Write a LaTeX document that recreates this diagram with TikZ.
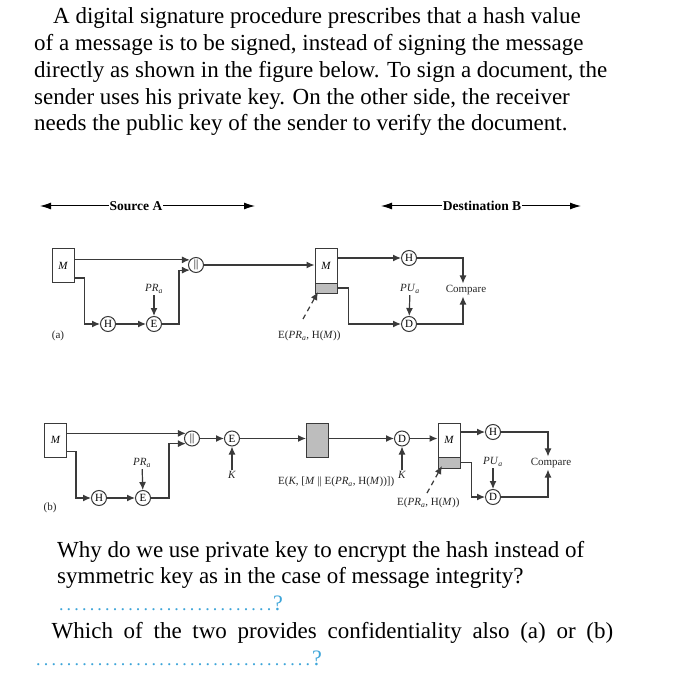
\documentclass[tikz,border=0pt]{standalone}
\usepackage{fontspec}
\setmainfont{Liberation Serif}
\usetikzlibrary{arrows.meta,calc}
\definecolor{wirec}{HTML}{3A3A3A}
\definecolor{gboxc}{HTML}{BDBDBD}
\definecolor{qblue}{HTML}{3DA5D9}
\begin{document}
\begin{tikzpicture}[x=1pt,y=-1pt,
  body/.style={font=\fontsize{23}{26}\selectfont, anchor=base west, inner sep=0pt},
  lbl/.style={font=\fontsize{11}{12}\selectfont, inner sep=1.5pt, text=black!85},
  op/.style={circle, draw=wirec, line width=1pt, fill=white, minimum size=15pt, inner sep=0pt, font=\fontsize{11}{12}\selectfont},
  msgbox/.style={draw=wirec, line width=1pt, fill=white, minimum width=22pt, minimum height=34pt, inner sep=0pt, font=\fontsize{11}{12}\selectfont\itshape},
  graybox/.style={draw=wirec, line width=1pt, fill=gboxc, minimum width=22pt, minimum height=10pt, inner sep=0pt},
  arr/.style={draw=wirec, line width=1.2pt, -{Latex[length=8pt,width=7pt]}},
  hdrarr/.style={draw=black, line width=1pt, {Latex[length=11pt,width=7pt]}-{Latex[length=11pt,width=7pt]}},
  hdr/.style={font=\fontsize{13.5}{15}\selectfont\bfseries, fill=white, inner xsep=1pt, inner ysep=1pt},
  leader/.style={draw=wirec, line width=1.2pt, dash pattern=on 5pt off 4pt, -{Latex[length=8pt,width=7pt]}},
  dotline/.style={anchor=base west, inner sep=0pt, text=qblue}
]
\useasboundingbox[fill=white] (0,0) rectangle (683,700);

% ---------- top text ----------
\node[body] (t1) at (53,24) {A digital signature procedure prescribes that a hash value};
\node[body] (t2) at (34,50.75) {of a message is to be signed, instead of signing the message};
\node[body] (t3) at (34,77.5) {directly as shown in the figure below. To sign a document, the};
\node[body] (t4) at (34,104.25) {sender uses his private key. On the other side, the receiver};
\node[body] (t5) at (34,131) {needs the public key of the sender to verify the document.};

% ---------- headers ----------
\coordinate (sa1) at (40,206); \coordinate (sa2) at (255,206);
\draw[hdrarr] (sa1) -- (sa2);
\node[hdr] (srcA) at (136,206) {Source A};
\coordinate (db1) at (381,206); \coordinate (db2) at (581,206);
\draw[hdrarr] (db1) -- (db2);
\node[hdr] (dstB) at (482,206) {Destination B};

% ---------- (a) ----------
\node[msgbox] (Ma) at (63,265.5) {M};
\node[op] (cata) at (196,265) {||};
\node[op] (Ha) at (108,324) {H};
\node[op] (Ea) at (154,324) {E};
\node[lbl] (PRa) at (154,289) {\textit{PR}\textsubscript{\textit{a}}};
\node[msgbox] (M2) at (326,266) {M};
\node[graybox] (G2) at (326,288) {};
\node[op] (Hd) at (409,258) {H};
\node[op] (Dd) at (409,324) {D};
\node[lbl] (PUa) at (410,289) {\textit{PU}\textsubscript{\textit{a}}};
\node[lbl] (cmpA) at (466,290) {Compare};
\node[lbl, anchor=west, inner sep=0pt] (sigA) at (278,336) {E(\textit{PR}\textsubscript{\textit{a}}, H(\textit{M}))};
\node[lbl] (la) at (58,336) {(a)};
\coordinate (ldA1) at (303,319);
\coordinate (ldA2) at (318,292);

\draw[arr] (Ma.east |- cata.140) -- (cata.140);
\draw[arr] ([yshift=5pt]Ma.south east) -- ++(10,0) |- (Ha);
\draw[arr] (Ha) -- (Ea);
\draw[arr] (PRa) -- (Ea);
\draw[arr] (Ea.east) -- ++(17,0) |- (cata.220);
\draw[arr] (cata) -- (cata -| M2.west);
\draw[arr] (M2.east |- Hd) -- (Hd);
\draw[arr] (Hd) -| ([xshift=-3pt]cmpA.north);
\draw[arr] (G2.east) -- ++(11,0) |- (Dd);
\draw[arr] (PUa) -- (Dd);
\draw[arr] (Dd) -| ([xshift=-3pt]cmpA.south);
\draw[leader] (ldA1) -- (ldA2);

% ---------- (b) ----------
\node[msgbox] (Mb) at (55.5,440) {M};
\node[op] (catb) at (192,438.5) {||};
\node[op] (Hb) at (99,498) {H};
\node[op] (Eb) at (143,498) {E};
\node[lbl] (PRb) at (142,463) {\textit{PR}\textsubscript{\textit{a}}};
\node[op] (E2) at (232,438.5) {E};
\node[lbl] (Kb) at (232,475) {\textit{K}};
\node[graybox, minimum height=34pt] (GB) at (317.5,440) {};
\node[op] (D2) at (402,438.5) {D};
\node[lbl] (K2) at (402,475) {\textit{K}};
\node[msgbox] (M3) at (449,440) {M};
\node[graybox, minimum height=11pt] (G3) at (449,462.5) {};
\node[op] (H3) at (493,432) {H};
\node[op] (D3) at (493,497) {D};
\node[lbl] (PUb) at (493,462) {\textit{PU}\textsubscript{\textit{a}}};
\node[lbl] (cmpB) at (551,463) {Compare};
\node[lbl, anchor=west, inner sep=0pt] (sigB) at (278,482) {E(\textit{K}, [\textit{M} || E(\textit{PR}\textsubscript{\textit{a}}, H(\textit{M}))])};
\node[lbl, anchor=west, inner sep=0pt] (sigB2) at (397,503) {E(\textit{PR}\textsubscript{\textit{a}}, H(\textit{M}))};
\node[lbl] (lb) at (50,508) {(b)};
\coordinate (ldB1) at (427,493);
\coordinate (ldB2) at (442,466);

\draw[arr] (Mb.east |- catb.140) -- (catb.140);
\draw[arr] ([yshift=6pt]Mb.south east) -- ++(9,0) |- (Hb);
\draw[arr] (Hb) -- (Eb);
\draw[arr] (PRb) -- (Eb);
\draw[arr] (Eb.east) -- ++(18,0) |- (catb.220);
\draw[arr] (catb) -- (E2);
\draw[arr] (Kb) -- (E2);
\draw[arr] (E2) -- (E2 -| GB.west);
\draw[arr] (GB.east |- D2) -- (D2);
\draw[arr] (K2) -- (D2);
\draw[arr] (D2) -- (D2 -| M3.west);
\draw[arr] (M3.east |- H3) -- (H3);
\draw[arr] (H3) -| ([xshift=-3pt]cmpB.north);
\draw[arr] (G3.east) -- ++(11,0) |- (D3);
\draw[arr] (PUb) -- (D3);
\draw[arr] (D3) -| ([xshift=-3pt]cmpB.south);
\draw[leader] (ldB1) -- (ldB2);

% ---------- bottom questions ----------
\node[body] (q1) at (57,557) {Why do we use private key to encrypt the hash instead of};
\node[body] (q2) at (57,583) {symmetric key as in the case of message integrity?};
\node[dotline] (d1) at (57,610) {\fontsize{18}{18}\selectfont\hbox to 216pt{\cleaders\hbox to 7.7pt{\hss.\hss}\hfill}\fontsize{22}{22}\selectfont ?};
\node[body] (q3) at (51.5,638) {\makebox[561.5pt][s]{Which of the two provides confidentiality also (a) or (b)}};
\node[dotline] (d2) at (34,665) {\fontsize{18}{18}\selectfont\hbox to 278pt{\cleaders\hbox to 7.7pt{\hss.\hss}\hfill}\fontsize{22}{22}\selectfont ?};
\end{tikzpicture}
\end{document}
